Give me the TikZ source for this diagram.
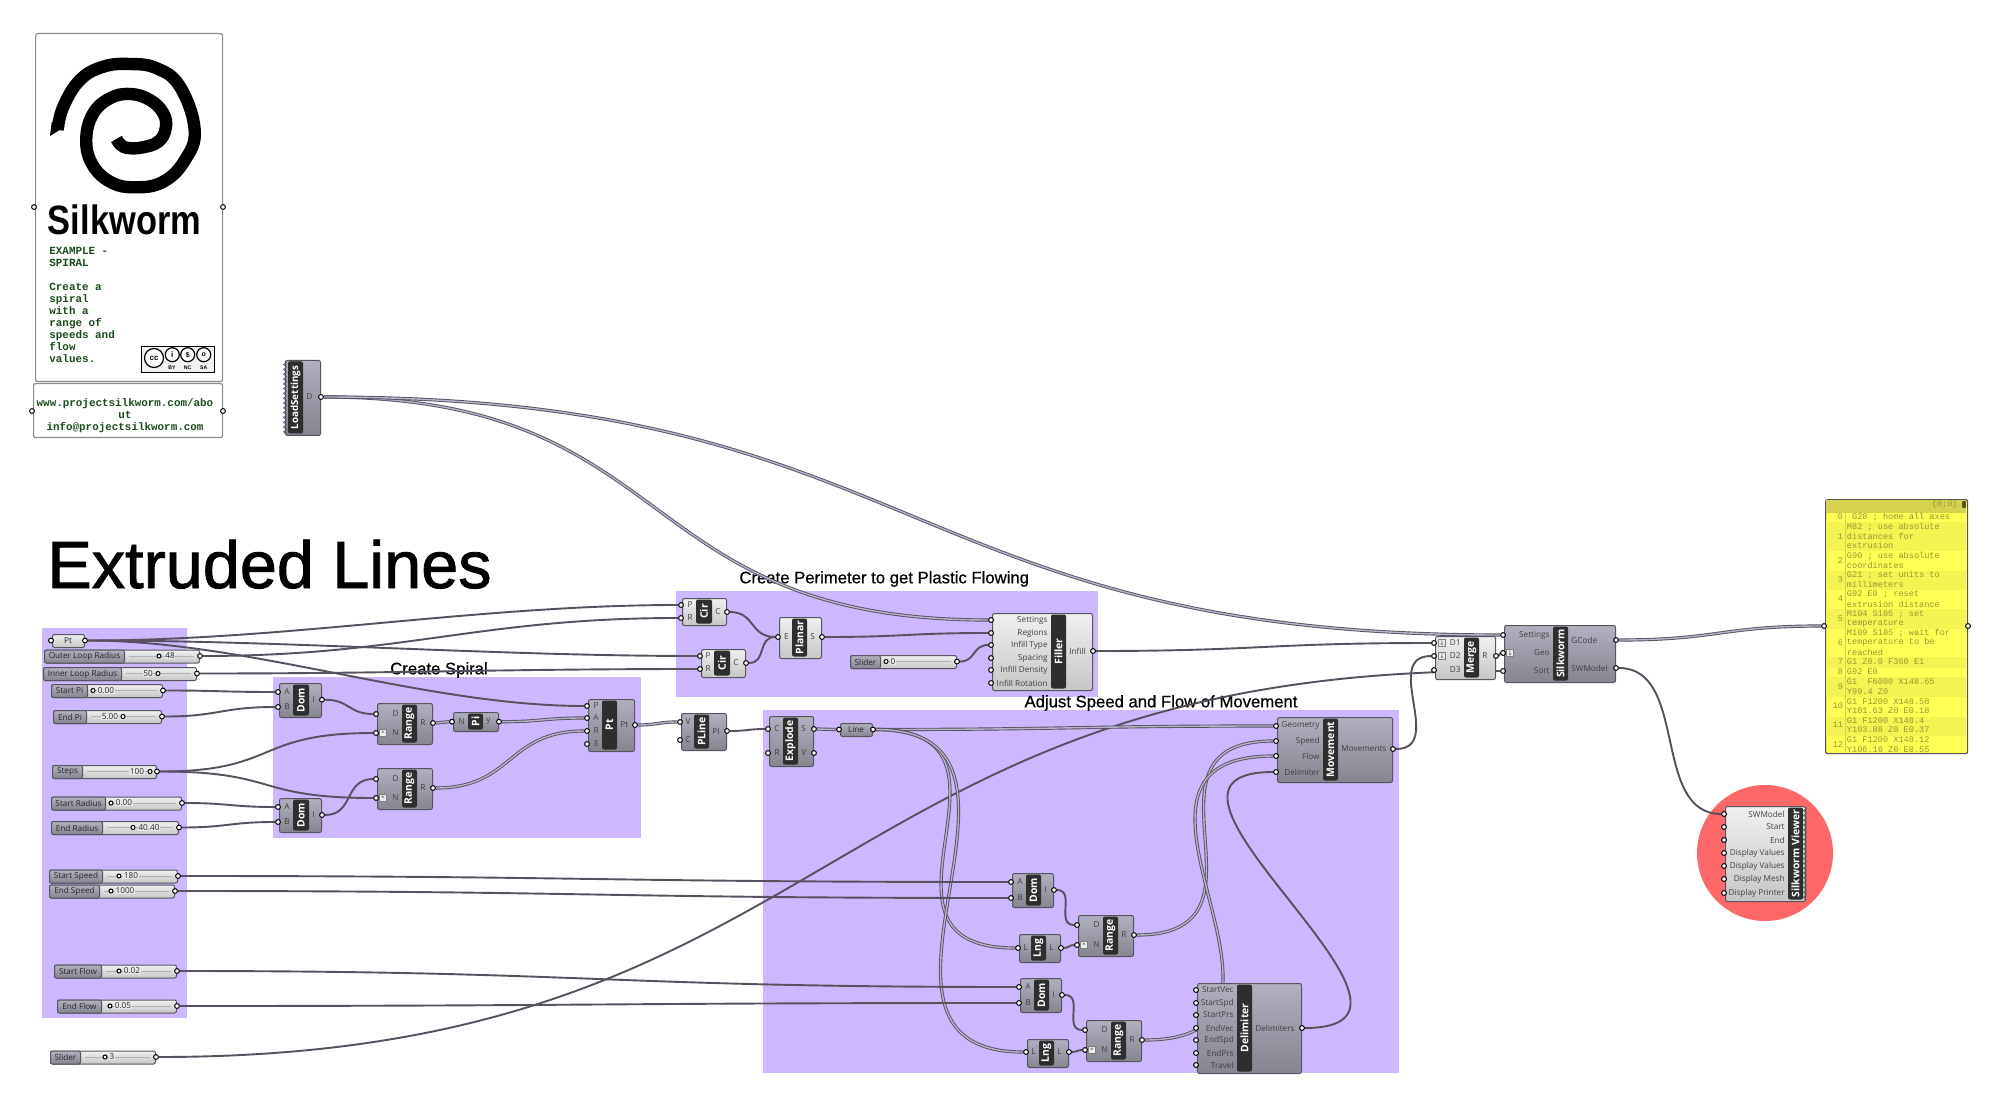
\documentclass[tikz,border=0pt]{standalone}
\usepackage{fontspec}
\usepackage{graphicx}
\setmainfont{Open Sans}
\newfontfamily\monof{Liberation Mono}
\newfontfamily\helf{Liberation Sans}
\newfontfamily\helmid[FakeBold=0.5]{Liberation Sans}
\newfontfamily\helthk[FakeBold=1.3]{Liberation Sans}
\newfontfamily\djvf{DejaVu Sans}
\usetikzlibrary{decorations.pathmorphing}
\pgfdeclarelayer{bg}\pgfdeclarelayer{wires}
\pgfsetlayers{bg,wires,main}
\definecolor{panelc}{HTML}{CDB8FF}
\definecolor{redc}{HTML}{FF6868}
\definecolor{yela}{HTML}{FFFF55}
\definecolor{yelb}{HTML}{F3F352}
\definecolor{yelh}{HTML}{D6D24E}
\definecolor{yelt}{HTML}{969632}
\definecolor{greent}{HTML}{1C4A1C}
\definecolor{edgec}{HTML}{55555F}
\definecolor{wirec}{HTML}{56505F}
\definecolor{dtop}{HTML}{B2B0C0}
\definecolor{dbot}{HTML}{85848F}
\definecolor{ltop}{HTML}{F0F0F0}
\definecolor{lbot}{HTML}{C6C6C6}
\definecolor{dwin}{HTML}{B8B2CC}
\tikzset{
 darkbody/.style={draw=edgec,line width=.5pt,rounded corners=1pt,top color=dtop,bottom color=dbot},
 lightbody/.style={draw=edgec,line width=.5pt,rounded corners=1pt,top color=ltop,bottom color=lbot},
 barst/.style={fill=black!82,rounded corners=1pt,inner sep=0pt,text=white,font=\fontsize{5.2}{6}\selectfont\bfseries},
 port/.style={circle,draw=black,fill=white,line width=.5pt,inner sep=0pt,minimum size=2.4pt},
 plabel/.style={inner sep=0pt,text=black!75,font=\fontsize{4.1}{5}\selectfont},
 wirest/.style={draw=wirec,line width=.95pt},
 dwirest/.style={draw=wirec,line width=.45pt,double=dwin,double distance=.7pt},
 paneltitle/.style={inner sep=0pt,font=\helmid\fontsize{8.35}{10}\selectfont},
 purple/.style={fill=panelc},
 ytext/.style={anchor=west,inner sep=0pt,text=yelt,font=\monof\fontsize{4.3}{5}\selectfont},
 silktext/.style={anchor=north west,inner sep=0pt,align=left,text=greent,font=\monof\bfseries\fontsize{5.45}{6}\selectfont},
 iconst/.style={draw=gray,fill=white!85!gray,inner sep=0pt,minimum size=3.4pt,text=black!70,font=\djvf\fontsize{3.2}{3.2}\selectfont},
 jag/.style={draw=edgec,line width=.4pt,decorate,decoration={zigzag,segment length=2.4pt,amplitude=.7pt}},
 ccr/.style={circle,draw=black,line width=.6pt,fill=white,inner sep=0pt}
}
\newcommand{\comp}[9]{%
 \def\cL{#2}\def\cR{#4}\def\bL{#6}\def\bR{#7}%
 \pgfmathsetmacro\cw{(#4-#2)*0.5}\pgfmathsetmacro\ch{(#5-#3)*0.5}%
 \pgfmathsetmacro\bw{(#7-#6)*0.5}\pgfmathsetmacro\blen{\ch-1.5}%
 \pgfmathsetmacro\bcx{(#6+#7)/2}\pgfmathsetmacro\bcy{(#3+#5)/2}%
 \pgfmathsetmacro\stripa{#6+1}\pgfmathsetmacro\stripb{#7-1}\pgfmathsetmacro\stripc{#3+1.5}\pgfmathsetmacro\stripd{#3+4}%
 \node[#9,minimum width=\cw pt,minimum height=\ch pt,inner sep=0pt,anchor=north west] (#1) at (#2,#3) {};%
 \fill[black!50] (\stripa,\stripc) rectangle (\stripb,\stripd);%
 \node[barst,rotate=90,minimum width=\blen pt,minimum height=\bw pt] (#1bar) at (\bcx,\bcy) {#8};%
}
\newcommand{\inp}[3]{\pgfmathsetmacro\pxx{\cL-1}\pgfmathsetmacro\lxx{\bL-3}%
 \node[plabel,anchor=east] (#1t) at (\lxx,#2) {#3};\node[port] (#1) at (\pxx,#2) {};}
\newcommand{\outp}[3]{\pgfmathsetmacro\pxx{\cR+1}\pgfmathsetmacro\lxx{\bR+3}%
 \node[plabel,anchor=west] (#1t) at (\lxx,#2) {#3};\node[port] (#1) at (\pxx,#2) {};}
\newcommand{\gslider}[9]{%
 \pgfmathsetmacro\cw{(#4-#2)*0.5}\pgfmathsetmacro\lw{(#5-#2)*0.5}%
 \pgfmathsetmacro\ya{#3-6.5}\pgfmathsetmacro\xa{#5+5}\pgfmathsetmacro\xb{#4-5}\pgfmathsetmacro\xc{#4+1}%
 \node[lightbody,minimum width=\cw pt,minimum height=6.5pt,inner sep=0pt,anchor=north west] (#1) at (#2,\ya) {};%
 \draw[black!30,line width=.25pt] (\xa,#3) -- (\xb,#3);%
 \node[darkbody,minimum width=\lw pt,minimum height=6.5pt,inner sep=0pt,anchor=north west] (#1lab) at (#2,\ya) {};%
 \node[plabel,text=black!85] (#1t) at (#1lab.center) {#9};%
 \node[plabel,text=black!85,fill=white!82!gray,inner xsep=.4pt] (#1v) at (#7,#3) {#8};%
 \node[port,minimum size=2pt] (#1h) at (#6,#3) {};%
 \node[port] (#1o) at (\xc,#3) {};%
}
\newcommand{\gparam}[7]{%
 \pgfmathsetmacro\cw{(#4-#2)*0.5}\pgfmathsetmacro\ch{(#5-#3)*0.5}%
 \pgfmathsetmacro\yc{(#3+#5)/2}\pgfmathsetmacro\xa{#2-1}\pgfmathsetmacro\xb{#4+1}\pgfmathsetmacro\xc{(#2+#4)/2}%
 \node[#7,minimum width=\cw pt,minimum height=\ch pt,inner sep=0pt,anchor=north west] (#1) at (#2,#3) {};%
 \node[plabel,text=black!85] (#1t) at (\xc,\yc) {#6};%
 \node[port] (#1i) at (\xa,\yc) {};\node[port] (#1o) at (\xb,\yc) {};%
}
\newcommand{\wsg}[3]{\draw[wirest] (#1) to[out=0,in=180,distance=#3pt] (#2);}
\newcommand{\wdb}[3]{\draw[dwirest] (#1) to[out=0,in=180,distance=#3pt] (#2);}
\newcommand{\wsl}[2]{\draw[wirest] (#1) to[out=0,in=180,looseness=1.25] (#2);}
\newcommand{\wdl}[2]{\draw[dwirest] (#1) to[out=0,in=180,looseness=1.25] (#2);}
\newcommand{\yrow}[3]{\fill[#3] (1826,#1) rectangle (1966,#2);}
\newcommand{\yline}[3]{\node[ytext] (#1) at (1846.5,#2) {#3};}
\newcommand{\yidx}[3]{\node[ytext,anchor=east] (#1) at (1843.5,#2) {#3};}
\begin{document}
\begin{tikzpicture}[x=0.5pt,y=-0.5pt]
\useasboundingbox (0,0) rectangle (2000,1106);
\begin{pgfonlayer}{bg}
\fill[white] (0,0) rectangle (2000,1106);
\fill[purple] (42,628) rectangle (187,1018);
\fill[purple] (273,677) rectangle (641,838);
\fill[purple] (676,591) rectangle (1098,697);
\fill[purple] (763,710) rectangle (1399,1073);
\fill[redc] (1765,853) circle (34pt);
\node[paneltitle,anchor=west] (t1) at (739,579) {Create Perimeter to get Plastic Flowing};
\node[paneltitle] (t2) at (439,670) {Create Spiral};
\node[paneltitle] (t3) at (1161,703) {Adjust Speed and Flow of Movement};
\node[inner sep=0pt,anchor=base west,font=\helthk\fontsize{33.3}{36}\selectfont] (t0) at (47,588) {Extruded Lines};
\end{pgfonlayer}

% Silkworm panels
\node[draw=black!45,line width=.6pt,rounded corners=1pt,fill=white,minimum width=93.5pt,minimum height=174pt,inner sep=0pt,anchor=north west] (panel) at (35,33) {};
\node[port] (panell) at (34,207) {};\node[port] (panelr) at (223,207) {};
\node[draw=black!45,line width=.6pt,rounded corners=1pt,fill=white,minimum width=94.5pt,minimum height=27pt,inner sep=0pt,anchor=north west] (link) at (33,383) {};
\node[port] (linkl) at (32,411) {};\node[port] (linkr) at (223,411) {};
\draw[line width=6.2pt,black] plot[smooth,tension=.7] coordinates {(57.5,130)(63.3,106.7)(80,80)(103.3,66.7)(130,64)(156.7,68.3)(180,86.7)(194.7,130)(185,160)(163.3,181.7)(135,187.3)(110,181.7)(91.7,163.3)(86.3,138.3)(93.3,113.3)(110,98.3)(130,94)(150,100)(163.3,113.3)(165.7,128.3)(158.3,141.7)(142,147.5)(128,148)(121,145)(116.4,139)};
\fill[black] (50,136) -- (51.7,122) -- (65,126.7) -- cycle;
\node[inner sep=0pt,anchor=base,font=\helf\bfseries\fontsize{20.5}{22}\selectfont] (silk) at (124.5,235) {\scalebox{.84}[1]{Silkworm}};
\node[silktext] (desc) at (49,246.5) {EXAMPLE -\\SPIRAL\\[6pt]Create a\\spiral\\with a\\range of\\speeds and\\flow\\values.};
\node[inner sep=0pt,align=center,text=greent,font=\monof\bfseries\fontsize{5.45}{6}\selectfont] (linkt) at (125,416) {www.projectsilkworm.com/abo\\ut\\info@projectsilkworm.com};
% CC badge
\node[draw=black,line width=.6pt,fill=white!90!gray,minimum width=36.5pt,minimum height=13pt,inner sep=0pt,anchor=north west] (cc) at (141,346) {};
\node[ccr,minimum size=9.5pt,font=\helf\bfseries\fontsize{4}{4}\selectfont] (cc1) at (154,358) {cc};
\node[ccr,minimum size=7pt,font=\helf\bfseries\fontsize{4}{4}\selectfont] (cc2) at (172.3,354.7) {i};
\node[ccr,minimum size=7pt,font=\helf\bfseries\fontsize{3.5}{4}\selectfont] (cc3) at (187.7,354.7) {\$};
\node[ccr,minimum size=7pt,font=\helf\bfseries\fontsize{3.5}{4}\selectfont] (cc4) at (203.7,354.7) {o};
\node[inner sep=0pt,font=\helf\bfseries\fontsize{2.6}{3}\selectfont] (ccb) at (172,368) {BY};
\node[inner sep=0pt,font=\helf\bfseries\fontsize{2.6}{3}\selectfont] (ccn) at (187.7,368) {NC};
\node[inner sep=0pt,font=\helf\bfseries\fontsize{2.6}{3}\selectfont] (ccs) at (203.7,368) {SA};

% LoadSettings
\comp{load}{285}{360}{320}{435}{288}{303}{\fontsize{4.9}{6}\selectfont LoadSettings}{darkbody}
\outp{loadD}{397}{D}
\draw[jag] (285,361) -- (285,434);

% sliders and params
\gparam{ptp}{52}{634}{84}{647}{Pt}{lightbody}
\gslider{outer}{44}{656}{199}{124}{159}{170}{48}{Outer Loop Radius}
\gslider{inner}{43}{673.5}{196}{121}{158}{148}{50}{Inner Loop Radius}
\gslider{spi}{51}{690.5}{162}{87}{93}{106}{0.00}{Start Pi}
\gslider{epi}{53}{716.5}{161}{86}{123}{110}{5.00}{End Pi}
\gslider{steps}{52}{771.5}{156}{82}{150}{137}{100}{Steps}
\gslider{srad}{51}{803}{181}{105}{111}{124}{0.00}{Start Radius}
\gslider{erad}{51}{827.5}{178}{102}{133}{149}{40.40}{End Radius}
\gslider{sspd}{49}{876}{177}{102}{119}{131}{180}{Start Speed}
\gslider{espd}{49}{891}{174}{99}{111}{125}{1000}{End Speed}
\gslider{sflo}{54}{971}{176}{101}{119}{132}{0.02}{Start Flow}
\gslider{eflo}{57}{1006}{176}{101}{110}{123}{0.05}{End Flow}
\gslider{slthree}{50}{1057}{155}{80}{105}{112}{3}{Slider}
\gslider{slzero}{850}{661.5}{956}{880}{886}{893}{0}{Slider}
\gparam{linep}{840}{723}{872}{736}{Line}{darkbody}

% components
\comp{dom1}{279}{683}{321}{717}{293}{309}{Dom}{darkbody}
\inp{dom1A}{692}{A}\inp{dom1B}{707}{B}\outp{dom1I}{699.7}{I}
\comp{dom2}{279}{798}{321}{832}{293}{309}{Dom}{darkbody}
\inp{dom2A}{807}{A}\inp{dom2B}{822}{B}\outp{dom2I}{815}{I}
\comp{rng1}{377}{703}{432}{744}{402}{417}{Range}{darkbody}
\inp{rng1D}{714}{D}\inp{rng1N}{733}{N}\outp{rng1R}{723}{R}
\comp{rng2}{377}{768}{432}{809}{402}{417}{Range}{darkbody}
\inp{rng2D}{779}{D}\inp{rng2N}{798}{N}\outp{rng2R}{788}{R}
\comp{pifn}{453}{712}{498}{731}{468}{483}{Pi}{darkbody}
\inp{piN}{721.7}{N}\outp{piY}{721.7}{y}
\comp{ptc}{588}{699}{634}{751}{602}{617}{Pt}{darkbody}
\inp{ptP}{706}{P}\inp{ptA}{718}{A}\inp{ptR}{731}{R}\inp{ptE}{744}{E}\outp{ptO}{725}{Pt}
\comp{cir1}{682}{598}{726}{625}{696}{712}{Cir}{lightbody}
\inp{cir1P}{605}{P}\inp{cir1R}{618}{R}\outp{cir1C}{612}{C}
\comp{cir2}{701}{649}{745}{677}{714}{730}{Cir}{lightbody}
\inp{cir2P}{656}{P}\inp{cir2R}{669}{R}\outp{cir2C}{663}{C}
\comp{planar}{779}{617}{821}{658}{792}{807}{Planar}{lightbody}
\inp{planE}{637}{E}\outp{planS}{637}{S}
\comp{filler}{992}{613}{1092}{690}{1051}{1066}{Filler}{lightbody}
\inp{fSet}{620}{Settings}\inp{fReg}{633}{Regions}\inp{fTyp}{645}{Infill Type}\inp{fSpa}{658}{Spacing}\inp{fDen}{670}{Infill Density}\inp{fRot}{683}{Infill Rotation}\outp{fOut}{651}{Infill}
\comp{pline}{681}{713}{726}{750}{694}{709}{PLine}{darkbody}
\inp{plV}{722}{V}\inp{plC}{740}{C}\outp{plO}{731}{Pl}
\comp{expl}{769}{716}{813}{766}{783}{798}{Explode}{darkbody}
\inp{exC}{729}{C}\inp{exR}{753}{R}\outp{exS}{729}{S}\outp{exV}{753}{V}
\comp{move}{1277}{717}{1392}{782}{1323}{1338}{Movement}{darkbody}
\inp{mGeo}{726}{Geometry}\inp{mSpd}{741}{Speed}\inp{mFlo}{756}{Flow}\inp{mDel}{772}{Delimiter}\outp{mOut}{749}{Movements}
\comp{dom3}{1012}{873}{1053}{907}{1026}{1041}{Dom}{darkbody}
\inp{dom3A}{882}{A}\inp{dom3B}{898}{B}\outp{dom3I}{890}{I}
\comp{rng3}{1078}{915}{1133}{956}{1103}{1118}{Range}{darkbody}
\inp{rng3D}{925}{D}\inp{rng3N}{945}{N}\outp{rng3R}{935}{R}
\comp{lng1}{1019}{934}{1060}{962}{1031}{1046}{Lng}{darkbody}
\inp{lng1I}{948}{L}\outp{lng1O}{948}{L}
\comp{dom4}{1020}{978}{1061}{1012}{1034}{1049}{Dom}{darkbody}
\inp{dom4A}{987}{A}\inp{dom4B}{1003}{B}\outp{dom4I}{995}{I}
\comp{rng4}{1086}{1020}{1141}{1061}{1111}{1126}{Range}{darkbody}
\inp{rng4D}{1030}{D}\inp{rng4N}{1050}{N}\outp{rng4R}{1040}{R}
\comp{lng2}{1027}{1039}{1068}{1067}{1039}{1054}{Lng}{darkbody}
\inp{lng2I}{1052}{L}\outp{lng2O}{1052}{L}
\comp{delim}{1197}{983}{1301}{1073}{1237}{1252}{Delimiter}{darkbody}
\inp{dA}{990}{StartVec}\inp{dB}{1003}{StartSpd}\inp{dC}{1015}{StartPrs}\inp{dD}{1028}{EndVec}\inp{dE}{1040}{EndSpd}\inp{dF}{1053}{EndPrs}\inp{dG}{1065}{Travel}\outp{dOut}{1028}{Delimiters}
\comp{merge}{1435}{636}{1495}{679}{1464}{1479}{Merge}{lightbody}
\inp{mgA}{643}{D1}\inp{mgB}{656}{D2}\inp{mgC}{670}{D3}\outp{mgR}{656}{R}
\comp{silkc}{1504}{625}{1615}{682}{1553}{1568}{Silkworm}{darkbody}
\inp{sSet}{635}{Settings}\inp{sGeo}{653}{Geo}\inp{sSort}{671}{Sort}\outp{sGC}{640}{GCode}\outp{sSW}{668}{SWModel}
\comp{viewer}{1725}{806}{1805}{901}{1788}{1803}{Silkworm Viewer}{lightbody}
\inp{vA}{814}{SWModel}\inp{vB}{827}{Start}\inp{vC}{840}{End}\inp{vD}{853}{Display Values}\inp{vE}{866}{Display Values}\inp{vF}{879}{Display Mesh}\inp{vG}{893}{Display Printer}
\draw[jag] (1805,807) -- (1805,900);

% input icons
\node[iconst] (ic1) at (383,733) {*};
\node[iconst] (ic2) at (383,798) {*};
\node[iconst] (ic3) at (1084,945) {*};
\node[iconst] (ic4) at (1092,1050) {*};
\node[iconst] (ic5) at (1442,643) {↓};
\node[iconst] (ic6) at (1442,656) {↓};
\node[iconst] (ic7) at (1510,653) {↓};

% yellow panel
\node[draw=edgec,line width=.6pt,rounded corners=1pt,fill=yela,minimum width=71pt,minimum height=127pt,inner sep=0pt,anchor=north west] (gpanel) at (1825,499) {};
\yrow{500}{512.7}{yelh}
\yrow{522.3}{551}{yelb}\yrow{570.7}{590}{yelb}\yrow{609.3}{629}{yelb}\yrow{657.3}{667.7}{yelb}\yrow{677.3}{696.7}{yelb}\yrow{716.7}{736}{yelb}
\draw[yelh,line width=.4pt] (1845,500) -- (1845,752);
\node[ytext,anchor=east] (ghead) at (1958,504.5) {\{0;0\}};
\node[draw=none,fill=black!60!yelh,rounded corners=.5pt,minimum width=2pt,minimum height=3.5pt,inner sep=0pt] (gbtn) at (1964,504.5) {};
\node[port] (gi) at (1824,626) {};\node[port] (go) at (1968,626) {};
\yidx{i0}{517}{0}\yidx{i1}{536.3}{1}\yidx{i2}{560.5}{2}\yidx{i3}{580}{3}\yidx{i4}{599}{4}\yidx{i5}{619}{5}\yidx{i6}{642.7}{6}\yidx{i7}{662}{7}\yidx{i8}{672}{8}\yidx{i9}{686.5}{9}\yidx{i10}{706}{10}\yidx{i11}{725}{11}\yidx{i12}{745}{12}
\yline{l1}{517}{~G28 ; home all axes}
\yline{l2}{527}{M82 ; use absolute}
\yline{l3}{536.3}{distances for}
\yline{l4}{545.7}{extrusion}
\yline{l5}{555.7}{G90 ; use absolute}
\yline{l6}{565.3}{coordinates}
\yline{l7}{575}{G21 ; set units to}
\yline{l8}{584.7}{millimeters}
\yline{l9}{594.3}{G92 E0 ; reset}
\yline{l10}{604}{extrusion distance}
\yline{l11}{614}{M104 S185 ; set}
\yline{l12}{623.3}{temperature}
\yline{l13}{633.3}{M109 S185 ; wait for}
\yline{l14}{642.7}{temperature to be}
\yline{l15}{652.3}{reached}
\yline{l16}{662}{G1 Z0.0 F360 E1}
\yline{l17}{672}{G92 E0}
\yline{l18}{681.7}{G1~~F6000 X148.65}
\yline{l19}{691.3}{Y99.4 Z0}
\yline{l20}{701.3}{G1 F1200 X148.58}
\yline{l21}{710.7}{Y101.63 Z0 E0.18}
\yline{l22}{720.7}{G1 F1200 X148.4}
\yline{l23}{730}{Y103.88 Z0 E0.37}
\yline{l24}{740}{G1 F1200 X148.12}
\yline{l25}{749.7}{Y106.16 Z0 E0.55}

% wires
\begin{pgfonlayer}{wires}
\wsg{ptpo}{cir1P}{100}
\wsg{ptpo}{cir2P}{100}
\wsg{ptpo}{ptP}{80}
\wsg{outero}{cir1R}{100}
\wsg{innero}{cir2R}{100}
\wsl{spio}{dom1A}
\wsl{epio}{dom1B}
\wsl{dom1I}{rng1D}
\wsg{stepso}{rng1N}{60}
\wsg{stepso}{rng2N}{60}
\wsl{srado}{dom2A}
\wsl{erado}{dom2B}
\wsl{dom2I}{rng2D}
\wdl{rng1R}{piN}
\wdl{piY}{ptA}
\wdl{rng2R}{ptR}
\wdl{ptO}{plV}
\wsl{plO}{exC}
\wsl{cir1C}{planE}
\wsl{cir2C}{planE}
\wsl{planS}{fReg}
\wsl{slzeroo}{fTyp}
\wdb{loadD}{fSet}{180}
\wdb{loadD}{sSet}{300}
\wsl{fOut}{mgA}
\wsg{mOut}{mgB}{25}
\wsg{slthreeo}{sSort}{340}
\wsl{mgR}{sGeo}
\wdl{exS}{linepi}
\wdl{linepo}{mGeo}
\wdb{linepo}{lng1I}{85}
\wdb{linepo}{lng2I}{100}
\wsl{sspdo}{dom3A}
\wsl{espdo}{dom3B}
\wsl{sfloo}{dom4A}
\wsl{efloo}{dom4B}
\wsl{dom3I}{rng3D}
\wsl{lng1O}{rng3N}
\wdb{rng3R}{mSpd}{75}
\wsl{dom4I}{rng4D}
\wsl{lng2O}{rng4N}
\wdb{rng4R}{mFlo}{100}
\wsg{dOut}{mDel}{85}
\wdl{sGC}{gi}
\wsg{sSW}{vA}{35}
\end{pgfonlayer}
\end{tikzpicture}
\end{document}
